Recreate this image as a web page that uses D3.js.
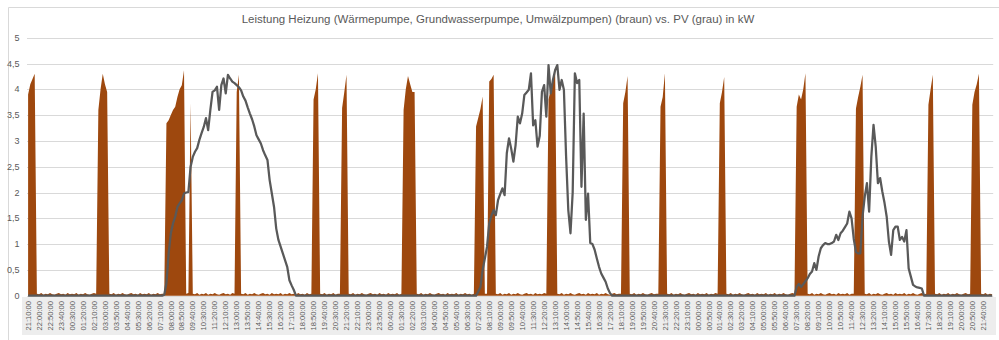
<!DOCTYPE html>
<html><head><meta charset="utf-8">
<script src="https://cdn.jsdelivr.net/npm/d3@7"></script>
<style>
html,body{margin:0;padding:0;background:#fff;}
svg{display:block;}
</style></head>
<body>
<svg id="chart" width="999" height="340"></svg>
<script>
// ---- DATA (10-minute samples starting 21:10:00) ----
const title = "Leistung Heizung (Wärmepumpe, Grundwasserpumpe, Umwälzpumpen) (braun) vs. PV (grau) in kW";

const heat = [
3.9,4.1,4.2,4.3,0.04,0.03,0.05,0.02,0.04,0.03,0.05,0.03,0.02,0.04,0.05,0.03,0.04,0.02,0.05,0.03,
0.04,0.03,0.05,0.02,0.04,0.03,0.05,0.03,0.02,0.04,0.05,0.04,3.6,4.0,4.3,4.1,3.95,0.04,0.03,0.05,
0.02,0.04,0.03,0.05,0.03,0.02,0.04,0.05,0.03,0.04,0.02,0.05,0.03,0.04,0.03,0.05,0.02,0.04,0.03,0.05,
0.03,0.04,0.04,3.34,3.4,3.5,3.6,3.66,3.85,4.0,4.08,4.37,0.04,0.05,3.73,0.04,0.03,0.05,0.02,0.04,
0.03,0.05,0.02,0.04,0.03,0.05,0.03,0.02,0.04,0.05,0.03,0.04,0.02,0.05,0.04,3.95,4.28,0.04,0.03,0.05,
0.02,0.04,0.03,0.05,0.03,0.02,0.04,0.05,0.03,0.04,0.02,0.05,0.03,0.04,0.03,0.05,0.02,0.04,0.03,0.05,
0.03,0.04,0.02,0.05,0.03,0.04,0.02,0.05,0.03,0.04,3.8,4.0,4.31,0.04,0.03,0.05,0.02,0.04,0.03,0.05,
0.02,0.04,0.04,3.64,3.95,4.28,0.04,0.03,0.05,0.02,0.04,0.03,0.05,0.03,0.02,0.04,0.05,0.03,0.04,0.02,
0.05,0.03,0.04,0.02,0.05,0.03,0.04,0.03,0.05,0.02,0.04,3.6,4.0,4.26,4.1,3.95,3.95,0.04,0.03,0.05,
0.02,0.04,0.03,0.05,0.03,0.02,0.04,0.05,0.03,0.04,0.02,0.05,0.03,0.04,0.03,0.05,0.02,0.04,0.03,0.05,
0.03,0.04,0.02,0.04,3.28,3.45,3.62,3.86,0.04,0.04,4.15,4.2,4.28,0.04,0.03,0.05,0.02,0.04,0.03,0.05,
0.02,0.04,0.03,0.05,0.03,0.02,0.04,0.05,0.03,0.04,0.02,0.05,0.03,0.04,0.03,0.05,0.04,3.8,4.0,4.2,
4.42,0.04,0.03,0.05,0.02,0.04,0.03,0.05,0.03,0.02,0.04,0.05,0.03,0.04,0.02,0.05,0.03,0.04,0.03,0.05,
0.02,0.04,0.03,0.05,0.03,0.02,0.04,0.05,0.03,0.04,0.04,3.73,3.95,4.26,0.04,0.03,0.05,0.02,0.04,0.03,
0.05,0.03,0.02,0.04,0.05,0.03,0.04,0.04,3.66,3.85,4.31,0.04,0.03,0.05,0.02,0.04,0.03,0.05,0.03,0.02,
0.04,0.05,0.03,0.04,0.02,0.05,0.03,0.04,0.03,0.05,0.02,0.04,0.03,0.05,0.04,3.73,3.95,4.24,0.04,0.03,
0.05,0.02,0.04,0.03,0.05,0.03,0.02,0.04,0.05,0.03,0.04,0.02,0.05,0.03,0.04,0.03,0.05,0.02,0.04,0.03,
0.05,0.02,0.04,0.03,0.05,0.03,0.02,0.04,0.05,0.04,3.66,3.9,3.8,4.0,4.31,0.04,0.03,0.05,0.02,0.04,
0.03,0.05,0.03,0.02,0.04,0.05,0.03,0.04,0.02,0.05,0.03,0.04,0.03,0.05,0.02,0.04,0.04,3.63,3.85,4.05,
4.28,0.04,0.03,0.05,0.02,0.04,0.03,0.05,0.03,0.02,0.04,0.05,0.03,0.04,0.02,0.05,0.03,0.04,0.03,0.05,
0.02,0.04,0.03,0.05,0.03,0.02,0.04,0.05,0.03,0.04,3.7,4.0,4.28,0.04,0.03,0.05,0.02,0.04,0.03,0.05,
0.02,0.04,0.03,0.05,0.03,0.02,0.04,0.05,0.03,0.04,3.7,3.95,4.1,4.3,0.04,0.03,0.05,0.02,0.04,0.03
];

const pv = [
0,0,0,0,0,0,0,0,0,0,0,0,0,0,0,0,0,0,0,0,
0,0,0,0,0,0,0,0,0,0,0,0,0,0,0,0,0,0,0,0,
0,0,0,0,0,0,0,0,0,0,0,0,0,0,0,0,0,0,0,0,
0,0,0.02,0.24,0.82,1.21,1.4,1.53,1.72,1.79,1.85,1.98,2.0,2.01,2.5,2.69,2.79,2.86,3.02,3.15,
3.27,3.44,3.21,3.6,3.95,3.98,4.05,3.6,4.08,4.21,3.92,4.28,4.21,4.15,4.12,4.08,4.04,3.98,3.86,3.78,
3.65,3.53,3.42,3.28,3.11,3.03,2.95,2.82,2.72,2.63,2.24,1.98,1.72,1.3,1.08,0.95,0.82,0.69,0.56,0.3,
0.2,0.11,0,0,0,0,0,0,0,0,0,0,0,0,0,0,0,0,0,0,
0,0,0,0,0,0,0,0,0,0,0,0,0,0,0,0,0,0,0,0,
0,0,0,0,0,0,0,0,0,0,0,0,0,0,0,0,0,0,0,0,
0,0,0,0,0,0,0,0,0,0,0,0,0,0,0,0,0,0,0,0,
0,0,0,0,0,0.08,0.17,0.5,0.72,0.95,1.4,1.55,1.66,1.56,1.85,1.97,2.08,1.95,2.76,3.05,
2.85,2.6,2.92,3.47,3.34,3.53,3.89,3.94,3.99,4.31,3.3,3.4,2.89,3.1,3.95,4.08,3.47,4.47,3.92,4.18,
4.37,4.47,3.99,4.18,3.99,2.7,1.66,1.21,2.0,4.31,4.12,4.18,2.11,3.53,1.47,1.98,1.02,1.0,0.89,0.72,
0.56,0.43,0.35,0.27,0.14,0.05,0,0,0,0,0,0,0,0,0,0,0,0,0,0,
0,0,0,0,0,0,0,0,0,0,0,0,0,0,0,0,0,0,0,0,
0,0,0,0,0,0,0,0,0,0,0,0,0,0,0,0,0,0,0,0,
0,0,0,0,0,0,0,0,0,0,0,0,0,0,0,0,0,0,0,0,
0,0,0,0,0,0,0,0,0,0,0.17,0.23,0.17,0.22,0.28,0.34,0.42,0.47,0.63,0.5,
0.76,0.92,0.98,1.02,1.0,1.0,1.02,1.05,1.18,1.08,1.21,1.26,1.33,1.4,1.63,1.5,1.1,0.85,0.82,0.82,
1.53,1.92,2.18,1.63,2.69,3.31,2.89,2.18,2.28,2.02,1.8,1.53,1.05,0.79,1.27,1.34,1.34,1.08,1.14,1.05,
1.27,0.53,0.37,0.21,0.18,0.16,0.15,0.14,0,0,0,0,0,0,0,0,0,0,0,0,
0,0,0,0,0,0,0,0,0,0,0,0,0,0,0,0,0,0,0,0
];

const tickLabels = [
"21:10:00","22:00:00","22:50:00","23:40:00","00:30:00","01:20:00","02:10:00","03:00:00","03:50:00","04:40:00",
"05:30:00","06:20:00","07:10:00","08:00:00","08:50:00","09:40:00","10:30:00","11:20:00","12:10:00","13:00:00",
"13:50:00","14:40:00","15:30:00","16:20:00","17:10:00","18:00:00","18:50:00","19:40:00","20:30:00",
"21:20:00","22:10:00","23:00:00","23:50:00","00:40:00","01:30:00","02:20:00","03:10:00","04:00:00","04:50:00",
"05:40:00","06:30:00","07:20:00","08:10:00","09:00:00","09:50:00","10:40:00","11:30:00","12:20:00","13:10:00",
"14:00:00","14:50:00","15:40:00","16:30:00","17:20:00","18:10:00","19:00:00","19:50:00","20:40:00","21:30:00",
"22:20:00","23:10:00","00:00:00","00:50:00","01:40:00","02:30:00","03:20:00","04:10:00","05:00:00","05:50:00",
"06:40:00","07:30:00","08:20:00","09:10:00","10:00:00","10:50:00","11:40:00","12:30:00","13:20:00","14:10:00",
"15:00:00","15:50:00","16:40:00","17:30:00","18:20:00","19:10:00","20:00:00","20:50:00","21:40:00"
];
const tickStep = 5;
const yTicks = [0,0.5,1,1.5,2,2.5,3,3.5,4,4.5,5];

// ---- DRAW ----
(function(){
const svg = d3.select("#chart");
const W = 999, H = 340;
const pLeft = 27, pRight = 993.2, pTop = 37.7, pBottom = 295.7;
const textCol = "#595959";

svg.append("rect").attr("x",0).attr("y",0).attr("width",W).attr("height",H).attr("fill","#fff");
// chart border (top / left)
svg.append("line").attr("x1",8.5).attr("x2",W).attr("y1",7.5).attr("y2",7.5).attr("stroke","#d9d9d9");
svg.append("line").attr("x1",8.5).attr("x2",8.5).attr("y1",7.5).attr("y2",H).attr("stroke","#d9d9d9");
// label band
svg.append("rect").attr("x",22).attr("y",297).attr("width",974).attr("height",38).attr("fill","#ededed");

const x = d3.scaleBand().domain(d3.range(heat.length)).range([pLeft, pRight]).padding(0);
const cx = i => x(i) + x.bandwidth()/2;
const y = d3.scaleLinear().domain([0,5]).range([pBottom, pTop]);

// gridlines
svg.append("g").selectAll("line").data(yTicks).join("line")
  .attr("x1",pLeft).attr("x2",pRight)
  .attr("y1",d=>Math.round(y(d))+0.5).attr("y2",d=>Math.round(y(d))+0.5)
  .attr("stroke","#d9d9d9").attr("stroke-width",1);

// y labels
const fmt = d => String(d).replace(".", ",");
svg.append("g").selectAll("text").data(yTicks).join("text")
  .attr("x",19.5).attr("y",d=>y(d)).attr("dy","0.35em")
  .attr("text-anchor","end").attr("fill",textCol)
  .attr("font-family","Liberation Sans, Arial, sans-serif").attr("font-size",9)
  .text(fmt);

// brown area
const area = d3.area().x((d,i)=>cx(i)).y0(y(0)).y1(d=>y(d)).curve(d3.curveLinear);
svg.append("path").datum(heat).attr("d",area).attr("fill","#9E480E");

// gray PV line
const line = d3.line().x((d,i)=>cx(i)).y(d=>y(d)).curve(d3.curveLinear);
svg.append("path").datum(pv).attr("d",line).attr("fill","none")
  .attr("stroke","#595959").attr("stroke-width",2.25).attr("stroke-linejoin","round");

// x axis
const xAxis = d3.axisBottom(x)
  .tickValues(d3.range(0, heat.length, tickStep))
  .tickFormat(d => tickLabels[d / tickStep])
  .tickSize(0);
const gx = svg.append("g").attr("transform",`translate(0,${pBottom+0.5})`).call(xAxis);
gx.select(".domain").remove();
gx.selectAll("text")
  .attr("transform","rotate(-90)")
  .attr("text-anchor","end")
  .attr("x",-4.8).attr("y",0).attr("dy","0.35em")
  .attr("fill",textCol)
  .attr("font-family","Liberation Sans, Arial, sans-serif")
  .attr("font-size",7.6);

// title
const t = svg.append("text").attr("x",498).attr("y",23).attr("text-anchor","middle")
  .attr("fill",textCol).attr("font-family","Liberation Sans, Arial, sans-serif")
  .attr("font-size",14).text(title);
const tw = t.node().getComputedTextLength();
t.attr("font-size", 14 * 513 / tw);
})();
</script>
</body></html>
